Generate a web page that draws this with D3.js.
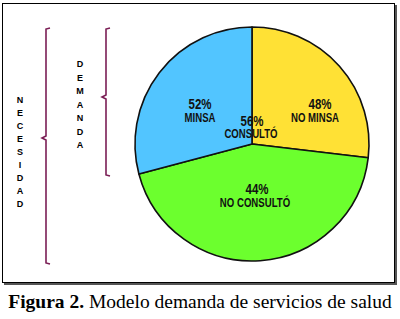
<!DOCTYPE html>
<html>
<head>
<meta charset="utf-8">
<script src="https://cdn.jsdelivr.net/npm/d3@7"></script>
<style>
  body { margin: 0; background: #fff; }
</style>
</head>
<body>
<div id="chart"></div>
<script>
// datos del modelo
var consulto = 56, noConsulto = 44;
var minsa = 52, noMinsa = 48;
var segmentos = ["NO MINSA", "NO CONSULTÓ", "MINSA"];
var etiquetas = ["48%", "44%", "52%"];
var colores = ["#FFE135", "#6CFF2E", "#52C5FF"];
var valores = [consulto * noMinsa / 100, noConsulto, consulto * minsa / 100];

var necesidad = "NECESIDAD".split(""),
    demanda = "DEMANDA".split("");

var width = 400, height = 319;

var svg = d3.select("#chart").append("svg")
    .attr("width", width)
    .attr("height", height);

// marco con sombra
svg.append("rect")
    .attr("x", 4).attr("y", 5)
    .attr("width", 393).attr("height", 280)
    .attr("fill", "#555");
svg.append("rect")
    .attr("x", 2.5).attr("y", 3.5)
    .attr("width", 392).attr("height", 279)
    .attr("fill", "#fff")
    .attr("stroke", "#000")
    .attr("stroke-width", 1);

var cx = 252, cy = 144, r = 117;

var pie = d3.pie().sort(null).startAngle(0).endAngle(2 * Math.PI);
var arc = d3.arc().innerRadius(0).outerRadius(r);

var g = svg.append("g")
    .attr("transform", "translate(" + cx + "," + cy + ")");

g.selectAll("path")
    .data(pie(valores))
    .enter().append("path")
    .attr("d", arc)
    .attr("fill", function (d, i) { return colores[i]; })
    .attr("stroke", "#111")
    .attr("stroke-width", 1.6)
    .attr("stroke-linejoin", "round");

var font = "'Liberation Sans', Arial, sans-serif";

// texto angosto (la fuente original es condensada)
function angosto(x, y, txt, size, sx) {
    g.append("text")
        .attr("transform", "translate(" + x + "," + y + ") scale(" + sx + ",1)")
        .attr("text-anchor", "middle")
        .attr("font-family", font)
        .attr("font-weight", "bold")
        .attr("font-size", size)
        .attr("fill", "#111")
        .text(txt);
}

// posiciones de etiquetas relativas al centro
var pos = [[68, -35], [5, 50], [-52, -35]];
var despl = [-5, -2, 0];

pos.forEach(function (p, i) {
    angosto(p[0], p[1], etiquetas[i], 14, 0.82);
    angosto(p[0] + despl[i], p[1] + 13, segmentos[i], 13, 0.74);
});

// total consultó
angosto(0, -18, consulto + "%", 14, 0.82);
angosto(-1, -6, "CONSULTÓ", 13, 0.74);

// llaves
var braceColor = "#7B1E55";
function llave(x, y0, y1, ym) {
    var p = "M" + (x + 4) + "," + y0 +
        "L" + x + "," + (y0 + 1) +
        "L" + x + "," + (ym - 2) +
        "L" + (x - 4) + "," + ym +
        "L" + x + "," + (ym + 2) +
        "L" + x + "," + (y1 - 1) +
        "L" + (x + 4) + "," + y1;
    svg.append("path")
        .attr("d", p)
        .attr("fill", "none")
        .attr("stroke", braceColor)
        .attr("stroke-width", 1.6);
}
llave(46, 28, 264, 138);
llave(106, 28, 176, 97);

// letras verticales
var yL = d3.scaleLinear().domain([0, necesidad.length - 1]).range([103, 207]);
svg.selectAll(".nec")
    .data(necesidad)
    .enter().append("text")
    .attr("x", 20)
    .attr("y", function (d, i) { return yL(i); })
    .attr("text-anchor", "middle")
    .attr("font-family", font)
    .attr("font-weight", "bold")
    .attr("font-size", 9)
    .text(function (d) { return d; });

var yD = d3.scaleLinear().domain([0, demanda.length - 1]).range([67, 148]);
svg.selectAll(".dem")
    .data(demanda)
    .enter().append("text")
    .attr("x", 80)
    .attr("y", function (d, i) { return yD(i); })
    .attr("text-anchor", "middle")
    .attr("font-family", font)
    .attr("font-weight", "bold")
    .attr("font-size", 9)
    .text(function (d) { return d; });

// pie de figura
var cap = svg.append("text")
    .attr("x", 200).attr("y", 308)
    .attr("text-anchor", "middle")
    .attr("font-family", "'Liberation Serif', 'Times New Roman', serif")
    .attr("font-size", 19.5)
    .attr("fill", "#000");
cap.append("tspan").attr("font-weight", "bold").text("Figura 2.");
cap.append("tspan").text(" Modelo demanda de servicios de salud");
</script>
</body>
</html>
